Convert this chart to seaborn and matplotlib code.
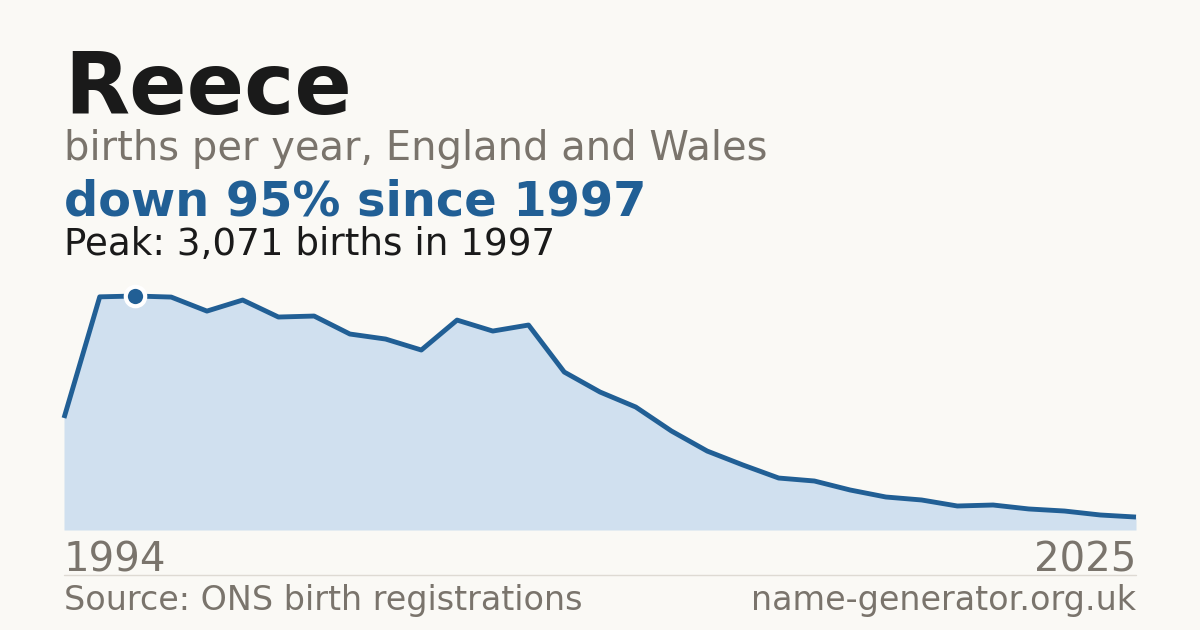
"""
Births per year for the name Reece, England and Wales.
"""

import numpy as np
import pandas as pd
import seaborn as sns
from matplotlib import pyplot as plt

# data
years = list(range(1995, 2026))
births = [1470, 3060, 3071, 3057, 2873, 3018, 2795, 2808, 2572, 2506,
          2362, 2755, 2611, 2690, 2073, 1811, 1614, 1299, 1036, 853,
          682, 643, 525, 433, 394, 315, 328, 276, 249, 197, 170]
peak_year = 1997
peak_value = 3071

title = "Reece"
subtitle = "births per year, England and Wales"
headline = "down 95% since 1997"
peak_label = "Peak: 3,071 births in 1997"
start_label = "1994"
end_label = "2025"
source_label = "Source: ONS birth registrations"
site_label = "name-generator.org.uk"

BG = "#faf9f5"
LINE = "#215f95"
FILL = "#d0e0ef"
GREY = "#7a746c"
DARK = "#1a1a1a"

sns.set_theme(style="white")
plt.rcParams['font.family'] = ['DejaVu Sans']

df = pd.DataFrame({"year": years, "births": births})

W, H = 1200, 630
fig = plt.figure(figsize=(12, 6.3), dpi=100, facecolor=BG)

# chart area in pixel coordinates
left, right, top, bottom = 64, 1136, 296, 530
ax = fig.add_axes([left / W, 1 - bottom / H, (right - left) / W, (bottom - top) / H])
ax.set_facecolor(BG)

ax.fill_between(df["year"], df["births"], 0, color=FILL, linewidth=0)
sns.lineplot(data=df, x="year", y="births", ax=ax, color=LINE,
             linewidth=3.5, clip_on=False, solid_capstyle="butt")
ax.plot([peak_year], [peak_value], marker="o", markersize=14,
        markerfacecolor=LINE, markeredgecolor="white", markeredgewidth=3,
        clip_on=False, zorder=5)

ax.set_xlim(years[0], years[-1])
ax.set_ylim(0, peak_value)
ax.set_axis_off()


def put(x, y, s, **kw):
    fig.text(x / W, 1 - y / H, s, va="baseline", **kw)


put(64, 114, title, fontsize=61, fontweight="bold", color=DARK)
put(64, 160, subtitle, fontsize=28.8, color=GREY)
put(64, 216, headline, fontsize=34.5, fontweight="bold", color=LINE)
put(64, 255, peak_label, fontsize=26.8, color=DARK)

put(64, 571, start_label, fontsize=29, color=GREY)
put(1136, 571, end_label, fontsize=29, color=GREY, ha="right")

# thin separator above the footer
fig.add_artist(plt.Line2D([left / W, right / W], [1 - 574.5 / H, 1 - 574.5 / H],
                          color="#dedad3", linewidth=1))

put(64, 610, source_label, fontsize=24, color=GREY)
put(1136, 610, site_label, fontsize=24, color=GREY, ha="right")

fig.savefig("out.png", dpi=100, facecolor=BG)
